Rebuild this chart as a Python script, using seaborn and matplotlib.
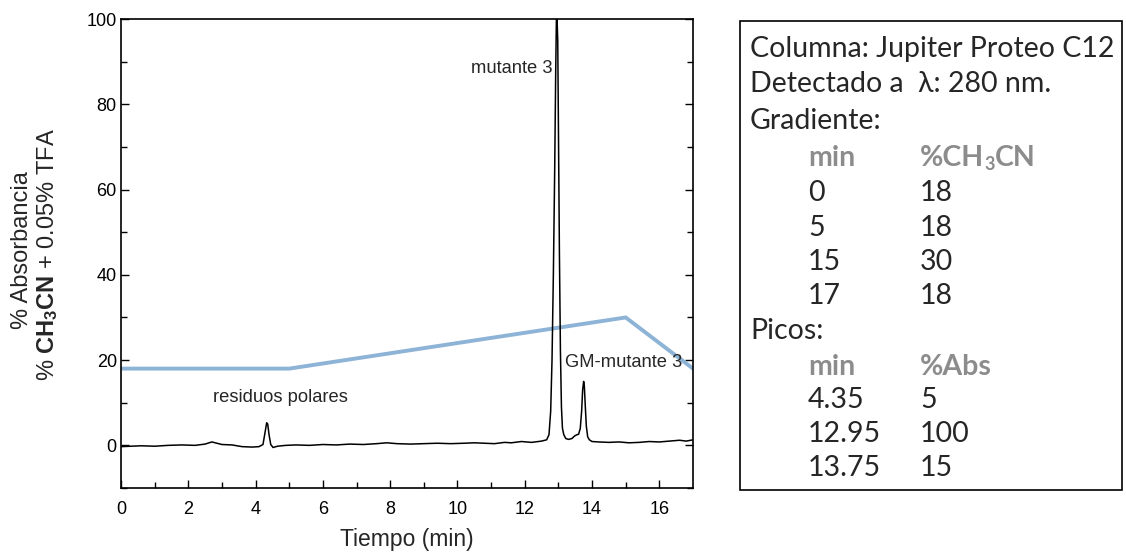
import matplotlib
matplotlib.use("Agg")
import matplotlib.pyplot as plt
import seaborn as sns
import pandas as pd
from matplotlib.patches import Rectangle

# ---------------- data ----------------
trace_time = [0.0, 0.3, 0.6, 1.0, 1.4, 1.8, 2.2, 2.5, 2.7, 2.85, 3.0, 3.3, 3.6, 3.9,
              4.1, 4.22, 4.28, 4.33, 4.36, 4.40, 4.45, 4.52, 4.65, 4.9, 5.2, 5.6,
              6.0, 6.4, 6.8, 7.2, 7.6, 7.9, 8.2, 8.6, 9.0, 9.4, 9.8, 10.2, 10.5,
              10.8, 11.1, 11.4, 11.6, 11.9, 12.2, 12.5, 12.65, 12.72, 12.77, 12.81,
              12.85, 12.89, 12.92, 12.94, 12.96, 12.98, 13.00, 13.03, 13.06, 13.09,
              13.12, 13.16, 13.22, 13.30, 13.40, 13.48, 13.55, 13.60, 13.65, 13.69,
              13.72, 13.75, 13.77, 13.80, 13.83, 13.87, 13.92, 14.0, 14.2, 14.5,
              14.8, 15.1, 15.4, 15.7, 16.0, 16.3, 16.6, 16.8, 17.0]
trace_abs = [-0.3, -0.2, -0.1, -0.2, 0.0, 0.1, 0.0, 0.3, 0.8, 0.5, 0.2, 0.1, -0.3, -0.4,
             -0.3, 0.2, 3.0, 5.3, 5.0, 2.5, 0.2, -0.5, -0.2, 0.0, 0.1, 0.0,
             0.2, 0.1, 0.3, 0.2, 0.4, 0.6, 0.4, 0.3, 0.4, 0.5, 0.4, 0.5, 0.6,
             0.5, 0.4, 0.7, 0.6, 0.9, 0.7, 1.0, 1.3, 2.5, 8.0, 20.0,
             40.0, 65.0, 88.0, 100.0, 100.0, 95.0, 75.0, 45.0, 22.0, 9.0,
             4.0, 2.5, 1.6, 1.4, 1.6, 2.2, 2.5, 2.6, 4.0, 8.0,
             13.0, 15.0, 14.0, 9.0, 4.5, 2.0, 1.3, 0.9, 0.8, 0.7,
             0.8, 0.6, 0.7, 0.9, 0.8, 1.0, 1.2, 1.0, 1.3]

grad_time = [0, 5, 15, 17]
grad_pct = [18, 18, 30, 18]

peak_time = ["4.35", "12.95", "13.75"]
peak_abs = ["5", "100", "15"]

annotations = [("mutante 3", 12.82, 88.5, "right"),
               ("GM-mutante 3", 13.19, 19.4, "left"),
               ("residuos polares", 4.75, 11.2, "center")]

x_ticks = [0, 2, 4, 6, 8, 10, 12, 14, 16]
y_ticks = [0, 20, 40, 60, 80, 100]

# ---------------- style ----------------
sns.set_theme(style="ticks")
plt.rcParams["font.family"] = ["Liberation Sans", "DejaVu Sans"]
plt.rcParams["mathtext.fontset"] = "custom"
plt.rcParams["mathtext.rm"] = "Liberation Sans"
plt.rcParams["mathtext.bf"] = "Liberation Sans:bold"

W, H = 1126, 554
fig = plt.figure(figsize=(W / 100, H / 100), dpi=100)
ax = fig.add_axes([121 / W, 1 - 488 / H, (693 - 121) / W, (488 - 19) / H])

df_trace = pd.DataFrame({"t": trace_time, "a": trace_abs})
df_grad = pd.DataFrame({"t": grad_time, "p": grad_pct})

sns.lineplot(data=df_grad, x="t", y="p", ax=ax, color="#8db3d6", lw=2.8,
             estimator=None, sort=False)
sns.lineplot(data=df_trace, x="t", y="a", ax=ax, color="black", lw=1.1,
             estimator=None, sort=False)

ax.set_xlim(0, 17)
ax.set_ylim(-10, 100)
ax.set_xticks(x_ticks)
ax.set_xticks([1, 3, 5, 7, 9, 11, 13, 15], minor=True)
ax.set_yticks(y_ticks)
ax.set_yticks([-10, 10, 30, 50, 70, 90], minor=True)
ax.tick_params(axis="both", which="both", direction="in", labelsize=13,
               colors="black", right=True, top=False)
ax.tick_params(axis="both", which="major", length=6, width=1)
ax.tick_params(axis="both", which="minor", length=4, width=1)
ax.tick_params(axis="x", which="major", pad=9.5)
ax.tick_params(axis="y", which="major", pad=3)
for s in ax.spines.values():
    s.set_linewidth(1.2)
    s.set_color("black")
    s.set_visible(True)

ax.set_xlabel("Tiempo (min)", fontsize=16.5, labelpad=7)
ax.set_ylabel("")

fig.text(22 / W, 1 - 250 / H, "% Absorbancia", rotation=90, ha="center",
         va="center", fontsize=17)
fig.text(48 / W, 1 - 255 / H, r"% $\mathbf{CH_3CN}$ + 0.05% TFA", rotation=90,
         ha="center", va="center", fontsize=17)

for label, tx, ty_, ha in annotations:
    ax.text(tx, ty_, label, ha=ha, va="center", fontsize=13.2)

# ---------------- info box ----------------
fig.patches.append(Rectangle((740 / W, 1 - 490 / H), (1122 - 740) / W,
                             (490 - 21) / H, transform=fig.transFigure,
                             fill=False, edgecolor="black", lw=1.2))

box_font = ["Lato", "DejaVu Sans"]
fs = 20.5
gray = "#8c8c8c"
x0, x1, x2 = 750 / W, 808 / W, 920 / W
ys = [49, 84, 121, 158, 193, 228, 262, 296, 331, 367, 400, 434, 468]


def ty(p):
    return 1 - p / H


fig.text(x0, ty(ys[0]), "Columna: Jupiter Proteo C12", fontsize=fs,
         family=box_font, va="center")
fig.text(x0, ty(ys[1]), "Detectado a  λ: 280 nm.", fontsize=fs,
         family=box_font, va="center")
fig.text(x0, ty(ys[2]), "Gradiente:", fontsize=fs, family=box_font, va="center")
fig.text(x1, ty(ys[3]), "min", fontsize=fs, family=box_font, va="center",
         color=gray, weight="bold")
t1 = fig.text(x2, ty(ys[3]), "%CH", fontsize=fs, family=box_font, va="center",
              color=gray, weight="bold")
fig.canvas.draw()
bb = t1.get_window_extent()
sub = fig.text(bb.x1 / W, ty(ys[3] + 7), "3", fontsize=13, family=box_font,
               va="center", color=gray, weight="bold")
fig.canvas.draw()
bb2 = sub.get_window_extent()
fig.text(bb2.x1 / W, ty(ys[3]), "CN", fontsize=fs, family=box_font,
         va="center", color=gray, weight="bold")

for i, (gt, gp) in enumerate(zip(grad_time, grad_pct)):
    fig.text(x1, ty(ys[4 + i]), str(gt), fontsize=fs, family=box_font, va="center")
    fig.text(x2, ty(ys[4 + i]), str(gp), fontsize=fs, family=box_font, va="center")

fig.text(x0, ty(ys[8]), "Picos:", fontsize=fs, family=box_font, va="center")
fig.text(x1, ty(ys[9]), "min", fontsize=fs, family=box_font, va="center",
         color=gray, weight="bold")
fig.text(x2, ty(ys[9]), "%Abs", fontsize=fs, family=box_font, va="center",
         color=gray, weight="bold")
for i, (pt, pa) in enumerate(zip(peak_time, peak_abs)):
    fig.text(x1, ty(ys[10 + i]), pt, fontsize=fs, family=box_font, va="center")
    fig.text(x2, ty(ys[10 + i]), pa, fontsize=fs, family=box_font, va="center")

fig.savefig("out.png", dpi=100, facecolor="white")
